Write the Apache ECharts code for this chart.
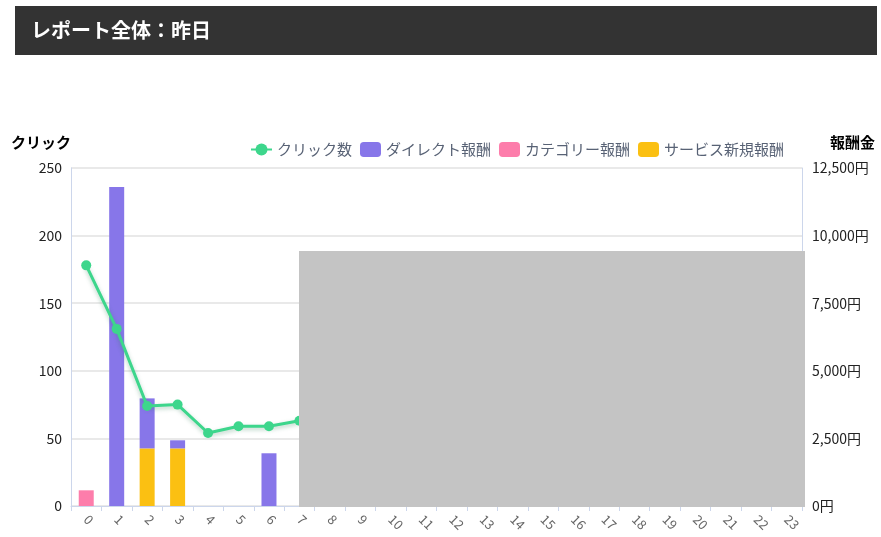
<!DOCTYPE html>
<html>
<head>
<meta charset="utf-8">
<title>レポート全体：昨日</title>
<script src="https://cdn.jsdelivr.net/npm/echarts@6/dist/echarts.min.js"></script>
<style>
  html, body { margin: 0; padding: 0; background: #fff; }
  #chart { width: 881px; height: 537px; }
</style>
</head>
<body>
<div id="chart"></div>
<script>
// 時間帯 (0〜23時)
const hours = ['0','1','2','3','4','5','6','7','8','9','10','11','12','13','14','15','16','17','18','19','20','21','22','23']
// クリック数 (8時以降は灰色の枠で隠れていて読めない)
const clicks = [178, 131, 74, 75, 54, 59, 59, 63, '-', '-', '-', '-', '-', '-', '-', '-', '-', '-', '-', '-', '-', '-', '-', '-']
// 報酬 (円)
const directReward = [0, 11800, 1850, 300, 0, 0, 1950, '-', '-', '-', '-', '-', '-', '-', '-', '-', '-', '-', '-', '-', '-', '-', '-', '-']
const categoryReward = [580, 0, 0, 0, 0, 0, 0, '-', '-', '-', '-', '-', '-', '-', '-', '-', '-', '-', '-', '-', '-', '-', '-', '-']
const serviceReward = [0, 0, 2130, 2130, 0, 0, 0, '-', '-', '-', '-', '-', '-', '-', '-', '-', '-', '-', '-', '-', '-', '-', '-', '-']

const FONT = '"Noto Sans CJK JP", "Noto Sans", sans-serif'
const AXIS_COLOR = '#ccd6eb'

const chart = echarts.init(document.getElementById('chart'))

const option = {
    animation: false,
    textStyle: { fontFamily: FONT },
    title: {
        text: 'レポート全体：昨日',
        left: 26,
        top: 15,
        textStyle: { color: '#fff', fontSize: 20, fontWeight: 'bold', fontFamily: FONT }
    },
    legend: {
        right: 92,
        top: 137,
        itemWidth: 21,
        itemHeight: 15,
        itemGap: 8,
        textStyle: { color: '#586275', fontSize: 15, fontFamily: FONT },
        data: [
            { name: 'クリック数' },
            { name: 'ダイレクト報酬', icon: 'roundRect' },
            { name: 'カテゴリー報酬', icon: 'roundRect' },
            { name: 'サービス新規報酬', icon: 'roundRect' }
        ]
    },
    grid: { left: 71, right: 79, top: 168, bottom: 31 },
    xAxis: {
        type: 'category',
        data: hours,
        axisLine: { lineStyle: { color: AXIS_COLOR } },
        axisTick: { show: true, length: 5, lineStyle: { color: AXIS_COLOR } },
        axisLabel: { rotate: -45, color: '#666', fontSize: 13, margin: 11, interval: 0 }
    },
    yAxis: [
        {
            type: 'value',
            name: 'クリック',
            nameGap: 18,
            nameTextStyle: { color: '#000', fontWeight: 'bold', fontSize: 15, align: 'right', fontFamily: FONT },
            min: 0,
            max: 250,
            interval: 50,
            axisLine: { show: true, lineStyle: { color: AXIS_COLOR } },
            axisLabel: { color: '#222', fontSize: 14, margin: 9 },
            splitLine: { lineStyle: { color: '#e2e2e2', width: 1.5 } }
        },
        {
            type: 'value',
            name: '報酬金',
            nameGap: 18,
            nameTextStyle: { color: '#000', fontWeight: 'bold', fontSize: 15, align: 'left', padding: [0, 0, 0, 28], fontFamily: FONT },
            min: 0,
            max: 12500,
            interval: 2500,
            axisLine: { show: true, lineStyle: { color: AXIS_COLOR } },
            axisLabel: {
                color: '#222',
                fontSize: 14,
                margin: 10,
                formatter: v => v.toLocaleString('ja-JP') + '円'
            },
            splitLine: { show: false }
        }
    ],
    series: [
        {
            name: 'クリック数',
            type: 'line',
            data: clicks,
            yAxisIndex: 0,
            z: 5,
            symbol: 'circle',
            symbolSize: 10,
            color: '#3dd68c',
            lineStyle: {
                width: 3,
                shadowColor: 'rgba(40, 120, 80, 0.35)',
                shadowBlur: 4,
                shadowOffsetY: 2
            }
        },
        // 積み上げは下から サービス新規 → カテゴリー → ダイレクト
        {
            name: 'サービス新規報酬',
            type: 'bar',
            stack: 'reward',
            yAxisIndex: 1,
            barWidth: 15,
            color: '#fbc012',
            data: serviceReward
        },
        {
            name: 'カテゴリー報酬',
            type: 'bar',
            stack: 'reward',
            yAxisIndex: 1,
            barWidth: 15,
            color: '#fd7dab',
            data: categoryReward
        },
        {
            name: 'ダイレクト報酬',
            type: 'bar',
            stack: 'reward',
            yAxisIndex: 1,
            barWidth: 15,
            color: '#8776e9',
            data: directReward
        }
    ],
    graphic: [
        {
            // タイトルの帯
            type: 'rect',
            z: -1,
            shape: { x: 15, y: 6, width: 862, height: 49 },
            style: { fill: '#333' }
        },
        {
            // 元画像で隠されている部分
            type: 'rect',
            z: 100,
            shape: { x: 299, y: 251, width: 506, height: 256 },
            style: { fill: '#c4c4c4' }
        }
    ]
}

chart.setOption(option)
</script>
</body>
</html>
